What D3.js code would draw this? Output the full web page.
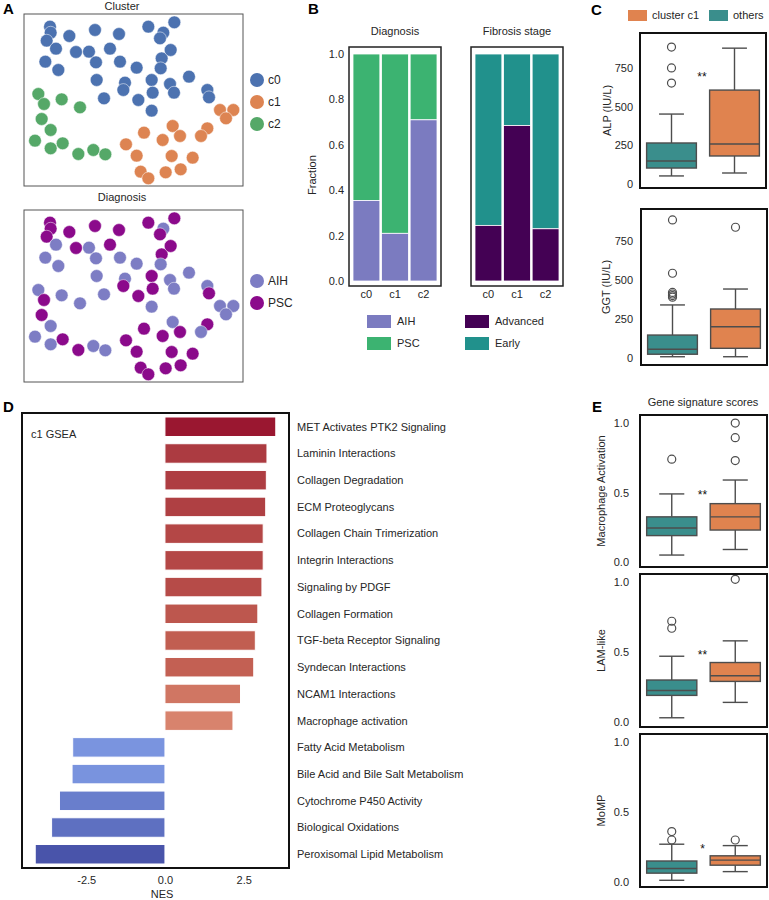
<!DOCTYPE html>
<html lang="en">
<head>
<meta charset="UTF-8">
<title>Cluster c1 figure</title>
<script src="https://d3js.org/d3.v7.min.js"></script>
<style>
  body { margin: 0; background: #fff; }
  svg { display: block; font-family: "Liberation Sans", Arial, sans-serif; }
</style>
</head>
<body>
<svg id="fig" width="769" height="900"></svg>
<script>
// ---------- data ----------
// A: UMAP embedding, one entry per sample
const umap1 = [1.80,1.84,1.60,2.16,2.96,4.50,5.94,7.70,8.60,8.40,9.26,1.52,2.30,3.36,4.14,4.56,5.40,6.00,7.00,8.50,9.04,8.44,4.60,6.30,6.20,5.04,7.10,7.90,7.96,7.90,9.00,9.24,10.14,11.24,11.34,
  12.00,12.80,12.36,7.44,9.16,9.60,8.56,11.24,10.86,6.36,7.00,9.10,10.36,7.24,7.70,8.74,9.64,
  1.10,1.44,2.50,3.60,1.30,1.84,0.90,1.84,2.56,3.50,4.40,5.12];
const umap2 = [9.80,9.44,8.96,8.48,9.24,9.60,9.36,9.80,9.44,9.10,10.06,7.70,7.20,8.28,8.30,7.66,8.48,7.70,7.34,7.90,8.40,7.30,6.60,6.44,6.00,5.50,5.40,6.60,5.84,4.76,6.36,5.84,6.80,6.00,5.56,
  4.80,4.80,4.30,3.44,3.84,3.24,3.00,3.70,3.24,2.74,2.06,2.04,1.94,1.10,0.70,1.06,1.24,
  5.76,5.16,5.44,4.96,4.26,3.60,2.96,2.50,2.80,2.16,2.40,2.14];
// cluster id per sample (0/1/2) and diagnosis per sample (A = AIH, P = PSC)
const clusterCodes = "00000000000000000000000000000000000" + "11111111111111111" + "222222222222";
const diagCodes = "PPPAPPPPAPPAAPAAPAAPPAAAPAPPPAAAAAP" + "AAAPAPPPAPPPPPPPP" + "APAAPAAAPPAA";

// B: stacked fractions
const clusters = ["c0", "c1", "c2"];
const aihFrac = [0.355, 0.21, 0.71];
const advancedFrac = [0.245, 0.685, 0.23];

// C / E: box plot summaries [low whisker, Q1, median, Q3, high whisker], order: others, cluster c1
const boxGroups = ["others", "cluster c1"];
const alpStats = [[52, 103, 149, 265, 452], [71, 181, 258, 607, 878]];
const alpOutliers = [[885, 750, 652], []];
const ggtStats = [[8, 24, 56, 147, 340], [8, 62, 200, 314, 442]];
const ggtOutliers = [[885, 543, 420, 410, 400, 390], [838]];
const macStats = [[0.05, 0.19, 0.245, 0.325, 0.49], [0.09, 0.23, 0.325, 0.42, 0.59]];
const macOutliers = [[0.74], [0.73, 0.895, 1.0]];
const lamStats = [[0.03, 0.19, 0.225, 0.30, 0.47], [0.14, 0.29, 0.33, 0.425, 0.58]];
const lamOutliers = [[0.72, 0.67], [1.02]];
const mompStats = [[0.012, 0.063, 0.096, 0.15, 0.27], [0.074, 0.12, 0.156, 0.187, 0.26]];
const mompOutliers = [[0.30, 0.36], [0.30]];

// D: GSEA
const pathways = ["MET Activates PTK2 Signaling", "Laminin Interactions", "Collagen Degradation",
  "ECM Proteoglycans", "Collagen Chain Trimerization", "Integrin Interactions", "Signaling by PDGF",
  "Collagen Formation", "TGF-beta Receptor Signaling", "Syndecan Interactions", "NCAM1 Interactions",
  "Macrophage activation", "Fatty Acid Metabolism", "Bile Acid and Bile Salt Metabolism",
  "Cytochrome P450 Activity", "Biological Oxidations", "Peroxisomal Lipid Metabolism"];
const nes = [3.52, 3.24, 3.22, 3.20, 3.12, 3.12, 3.08, 2.95, 2.87, 2.82, 2.40, 2.16, -2.93, -2.95, -3.35, -3.60, -4.12];

// ---------- drawing ----------
const svg = d3.select("#fig");
const textCol = "#262626";
const lineCol = "#4d4d4d";

const clusterColor = d3.scaleOrdinal().domain(["0", "1", "2"]).range(["#4c72b0", "#dd8452", "#55a868"]);
const diagColor = d3.scaleOrdinal().domain(["A", "P"]).range(["#7d7dc4", "#8b0a8b"]);
const boxColor = d3.scaleOrdinal().domain(boxGroups).range(["#3a8e8c", "#e0834f"]);

const samples = umap1.map((u, i) => ({u1: u, u2: umap2[i], c: clusterCodes[i], d: diagCodes[i]}));

// panel letters
[["A", 3, 14], ["B", 308, 14], ["C", 591, 15], ["D", 3, 412], ["E", 592, 412]].forEach(([t, x, y]) => {
    svg.append("text").text(t).attr("x", x).attr("y", y)
        .attr("font-size", "15px").attr("font-weight", 900).attr("fill", "#000");
});

// ----- A: scatter panels -----
function scatterPanel(top, title, titleY, key, color, legend) {
    const x = d3.scaleLinear().domain([0.24, 13.38]).range([24, 243]);
    const y = d3.scaleLinear().domain([0.24, 10.56]).range([top + 172, top]);
    const g = svg.append("g");
    g.append("rect").attr("x", 24).attr("y", top).attr("width", 219).attr("height", 172)
        .attr("fill", "none").attr("stroke", "#555").attr("stroke-width", 1);
    g.selectAll("circle").data(samples).enter().append("circle")
        .attr("cx", d => x(d.u1)).attr("cy", d => y(d.u2)).attr("r", 6.4)
        .attr("fill", d => color(d[key])).attr("stroke", "#fff").attr("stroke-width", 0.5);
    g.append("text").text(title).attr("x", 122).attr("y", titleY).attr("text-anchor", "middle")
        .attr("font-size", "11px").attr("fill", textCol);
    legend.forEach(([code, label], i) => {
        g.append("circle").attr("cx", 257).attr("cy", legend.y0 + i * 22).attr("r", 7).attr("fill", color(code));
        g.append("text").text(label).attr("x", 268).attr("y", legend.y0 + i * 22)
            .attr("dy", "0.35em").attr("font-size", "12px").attr("fill", textCol);
    });
}
const clusterLegend = [["0", "c0"], ["1", "c1"], ["2", "c2"]]; clusterLegend.y0 = 80;
const diagLegend = [["A", "AIH"], ["P", "PSC"]]; diagLegend.y0 = 281;
scatterPanel(14, "Cluster", 10, "c", clusterColor, clusterLegend);
scatterPanel(210, "Diagnosis", 201, "d", diagColor, diagLegend);

// ----- B: stacked fraction bars -----
const yFrac = d3.scaleLinear().domain([0, 1]).range([281, 54]);
function stackPanel(left, title, lowVals, lowColor, highColor) {
    const g = svg.append("g");
    const x = d3.scaleBand().domain(clusters).range([left + 4, left + 88]).paddingInner(0.06);
    clusters.forEach((c, i) => {
        g.append("rect").attr("x", x(c)).attr("width", x.bandwidth())
            .attr("y", yFrac(1)).attr("height", yFrac(lowVals[i]) - yFrac(1))
            .attr("fill", highColor).attr("stroke", "#fff").attr("stroke-width", 0.8);
        g.append("rect").attr("x", x(c)).attr("width", x.bandwidth())
            .attr("y", yFrac(lowVals[i])).attr("height", yFrac(0) - yFrac(lowVals[i]))
            .attr("fill", lowColor).attr("stroke", "#fff").attr("stroke-width", 0.8);
        g.append("text").text(c).attr("x", x(c) + x.bandwidth() / 2).attr("y", 298)
            .attr("text-anchor", "middle").attr("font-size", "11px").attr("fill", textCol);
    });
    g.append("rect").attr("x", left).attr("y", 47).attr("width", 92).attr("height", 239)
        .attr("fill", "none").attr("stroke", "#222").attr("stroke-width", 1.5);
    g.append("text").text(title).attr("x", left + 46).attr("y", 35).attr("text-anchor", "middle")
        .attr("font-size", "11px").attr("fill", textCol);
}
stackPanel(349, "Diagnosis", aihFrac, "#7b7bc0", "#3cb371");
stackPanel(471, "Fibrosis stage", advancedFrac, "#440154", "#21918c");

const axB = svg.append("g").attr("transform", "translate(349,0)")
    .call(d3.axisLeft(yFrac).tickValues([0, 0.2, 0.4, 0.6, 0.8, 1.0]).tickFormat(d => d.toFixed(1)).tickSize(0).tickPadding(5));
axB.select(".domain").remove();
axB.selectAll("text").attr("font-size", "11px").attr("fill", textCol).attr("font-family", "Liberation Sans, Arial, sans-serif");
svg.append("text").text("Fraction").attr("transform", "translate(316,175) rotate(-90)")
    .attr("text-anchor", "middle").attr("font-size", "11px").attr("fill", textCol);

[[367, 315, "#7b7bc0", "AIH"], [367, 337, "#3cb371", "PSC"], [465, 315, "#440154", "Advanced"], [465, 337, "#21918c", "Early"]]
    .forEach(([x, y, col, label]) => {
        svg.append("rect").attr("x", x).attr("y", y).attr("width", 24).attr("height", 13).attr("fill", col);
        svg.append("text").text(label).attr("x", x + 30).attr("y", y + 6.5).attr("dy", "0.35em")
            .attr("font-size", "11px").attr("fill", textCol);
    });

// ----- box plot helper (C, E) -----
function boxPanel(o) {
    const g = svg.append("g");
    const y = d3.scaleLinear().domain(o.yDomain).range([o.top + o.height, o.top]);
    const x = d3.scalePoint().domain(boxGroups).range([o.left, o.left + o.width]).padding(0.5);
    const bw = x.step() * 0.79;
    boxGroups.forEach((grp, i) => {
        const [lo, q1, med, q3, hi] = o.stats[i];
        const cx = x(grp);
        g.append("line").attr("x1", cx).attr("x2", cx).attr("y1", y(lo)).attr("y2", y(q1));
        g.append("line").attr("x1", cx).attr("x2", cx).attr("y1", y(q3)).attr("y2", y(hi));
        g.append("line").attr("x1", cx - bw / 4).attr("x2", cx + bw / 4).attr("y1", y(lo)).attr("y2", y(lo));
        g.append("line").attr("x1", cx - bw / 4).attr("x2", cx + bw / 4).attr("y1", y(hi)).attr("y2", y(hi));
        g.append("rect").attr("x", cx - bw / 2).attr("width", bw).attr("y", y(q3)).attr("height", y(q1) - y(q3))
            .attr("fill", boxColor(grp)).attr("stroke", lineCol).attr("stroke-width", 1.4);
        g.append("line").attr("x1", cx - bw / 2).attr("x2", cx + bw / 2).attr("y1", y(med)).attr("y2", y(med));
        o.outliers[i].forEach(v => {
            g.append("circle").attr("cx", cx).attr("cy", y(v)).attr("r", 4)
                .attr("fill", "none").attr("stroke", lineCol).attr("stroke-width", 1.2);
        });
    });
    g.selectAll("line").attr("stroke", lineCol).attr("stroke-width", 1.4);
    g.append("rect").attr("x", o.left).attr("y", o.top).attr("width", o.width).attr("height", o.height)
        .attr("fill", "none").attr("stroke", "#111").attr("stroke-width", 2);
    const ax = g.append("g").attr("transform", `translate(${o.left},0)`)
        .call(d3.axisLeft(y).tickValues(o.ticks).tickFormat(o.fmt).tickSize(0).tickPadding(o.pad));
    ax.select(".domain").remove();
    ax.selectAll("text").attr("font-size", "11px").attr("fill", textCol).attr("font-family", "Liberation Sans, Arial, sans-serif");
    g.append("text").text(o.label).attr("transform", `translate(${o.labelX},${o.top + o.height / 2}) rotate(-90)`)
        .attr("text-anchor", "middle").attr("dy", "0.35em").attr("font-size", "11px").attr("fill", textCol);
    if (o.sig) {
        g.append("text").text(o.sig).attr("x", o.left + o.width / 2 - 1).attr("y", y(o.sigAt))
            .attr("text-anchor", "middle").attr("font-size", "12px").attr("fill", "#111");
    }
}

// ----- C -----
[["cluster c1", 628], ["others", 709]].forEach(([grp, x]) => {
    svg.append("rect").attr("x", x).attr("y", 10).attr("width", 19).attr("height", 11).attr("fill", boxColor(grp));
    svg.append("text").text(grp).attr("x", x + 24).attr("y", 15.5).attr("dy", "0.35em")
        .attr("font-size", "11px").attr("fill", textCol);
});
boxPanel({left: 640, top: 33, width: 126, height: 155, yDomain: [-26, 976], ticks: [0, 250, 500, 750],
    fmt: d3.format("d"), pad: 7, stats: alpStats, outliers: alpOutliers, label: "ALP (IU/L)", labelX: 607,
    sig: "**", sigAt: 665});
boxPanel({left: 641, top: 209, width: 126, height: 156, yDomain: [-45, 955], ticks: [0, 250, 500, 750],
    fmt: d3.format("d"), pad: 8, stats: ggtStats, outliers: ggtOutliers, label: "GGT (IU/L)", labelX: 606});

// ----- E -----
svg.append("text").text("Gene signature scores").attr("x", 703).attr("y", 406).attr("text-anchor", "middle")
    .attr("font-size", "11px").attr("fill", textCol);
const eDomain = [-0.036, 1.058];
boxPanel({left: 640, top: 415, width: 127, height: 152, yDomain: eDomain, ticks: [0, 0.5, 1.0],
    fmt: d => d.toFixed(1), pad: 11, stats: macStats, outliers: macOutliers, label: "Macrophage Activation",
    labelX: 601, sig: "**", sigAt: 0.455});
boxPanel({left: 640, top: 574, width: 127, height: 153, yDomain: eDomain, ticks: [0, 0.5, 1.0],
    fmt: d => d.toFixed(1), pad: 11, stats: lamStats, outliers: lamOutliers, label: "LAM-like",
    labelX: 601, sig: "**", sigAt: 0.45});
boxPanel({left: 640, top: 734, width: 127, height: 153, yDomain: eDomain, ticks: [0, 0.5, 1.0],
    fmt: d => d.toFixed(1), pad: 11, stats: mompStats, outliers: mompOutliers, label: "MoMP",
    labelX: 601, sig: "*", sigAt: 0.21});

// ----- D: GSEA bars -----
const xNes = d3.scaleLinear().domain([-4.54, 3.94]).range([22, 289]);
const yPath = d3.scaleBand().domain(pathways).range([413, 868]).paddingInner(0.27).paddingOuter(0.15);
const nesColor = d3.scaleLinear().domain([-4.1, -2.9, 2.1, 2.9, 3.2, 3.5])
    .range(["#4a55ab", "#7b96e0", "#da866f", "#c05c50", "#af4043", "#9b1a31"]);
const gD = svg.append("g");
pathways.forEach((p, i) => {
    const v = nes[i];
    gD.append("rect").attr("x", xNes(Math.min(0, v))).attr("width", Math.abs(xNes(v) - xNes(0)))
        .attr("y", yPath(p)).attr("height", yPath.bandwidth())
        .attr("fill", nesColor(v)).attr("stroke", "#fff").attr("stroke-width", 1);
    gD.append("text").text(p).attr("x", 297).attr("y", yPath(p) + yPath.bandwidth() / 2).attr("dy", "0.35em")
        .attr("font-size", "11px").attr("fill", textCol);
});
gD.append("rect").attr("x", 22).attr("y", 413).attr("width", 267).attr("height", 455)
    .attr("fill", "none").attr("stroke", "#111").attr("stroke-width", 2);
gD.append("text").text("c1 GSEA").attr("x", 31).attr("y", 438).attr("font-size", "11px").attr("fill", textCol);
const axD = gD.append("g").attr("transform", "translate(0,868)")
    .call(d3.axisBottom(xNes).tickValues([-2.5, 0, 2.5]).tickFormat(d => d.toFixed(1)).tickSize(0).tickPadding(8));
axD.select(".domain").remove();
axD.selectAll("text").attr("font-size", "11px").attr("fill", textCol).attr("font-family", "Liberation Sans, Arial, sans-serif");
gD.append("text").text("NES").attr("x", 162).attr("y", 898).attr("text-anchor", "middle")
    .attr("font-size", "11px").attr("fill", textCol);
</script>
</body>
</html>
